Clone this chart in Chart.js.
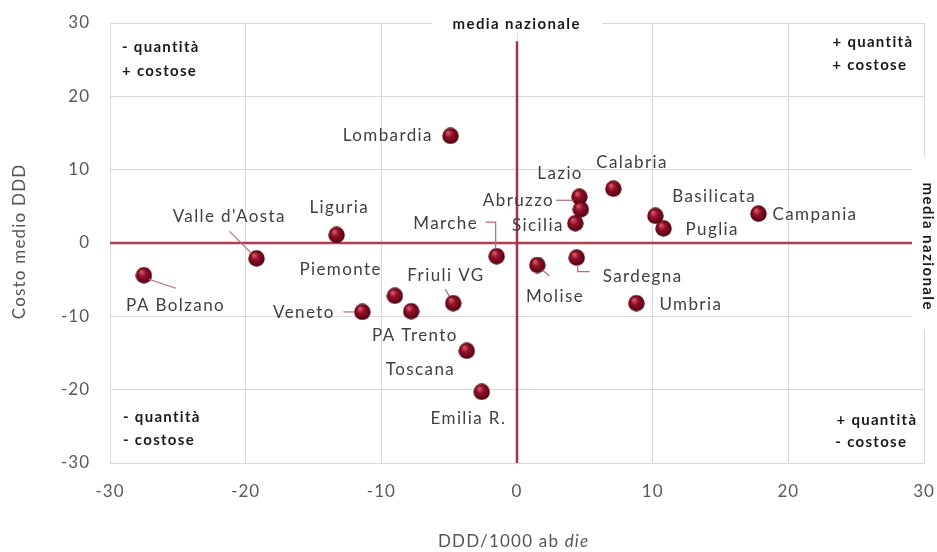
<!DOCTYPE html>
<html>
<head>
<meta charset="utf-8">
<script src="https://cdn.jsdelivr.net/npm/chart.js@4/dist/chart.umd.min.js"></script>
<style>
  html, body { margin: 0; padding: 0; background: #fff; }
  #box { width: 937px; height: 552px; }
</style>
</head>
<body>
<div id="box"><canvas id="grafico"></canvas></div>
<script>
// dati
const regioni = ['PA Bolzano', "Valle d'Aosta", 'Liguria', 'Lombardia', 'Marche', 'Piemonte', 'PA Trento',
  'Veneto', 'Friuli VG', 'Toscana', 'Emilia R.', 'Molise', 'Sardegna', 'Sicilia', 'Lazio', 'Abruzzo',
  'Calabria', 'Basilicata', 'Puglia', 'Campania', 'Umbria'];
const ddd   = [-27.5, -19.2, -13.3, -4.9, -1.5, -9.0, -7.8, -11.4, -4.7, -3.7, -2.6, 1.5, 4.4, 4.3, 4.6, 4.7, 7.1, 10.2, 10.8, 17.8, 8.8];
const costo = [-4.4, -2.1, 1.1, 14.6, -1.8, -7.2, -9.3, -9.4, -8.2, -14.7, -20.3, -3.0, -2.0, 2.7, 6.3, 4.6, 7.4, 3.7, 2.0, 4.0, -8.2];
const tickValori = [-30, -20, -10, 0, 10, 20, 30];
const mediaOrizz = [{ x: -30, y: 0 }, { x: 30, y: 0 }];
const mediaVert  = [{ x: 0, y: -30 }, { x: 0, y: 27.5 }];

// posizione etichette (offset in px dal punto) e linee guida
const etichette = {
  'PA Bolzano':    { dx: 31, dy: 30, al: 'center', guida: [[5, 4], [32, 13]] },
  "Valle d'Aosta": { dx: -28, dy: -42, al: 'center', guida: [[-27, -27], [-5, -5]] },
  'Liguria':       { dx: 2, dy: -27, al: 'center' },
  'Lombardia':     { dx: -19, dy: 0, al: 'right' },
  'Marche':        { dx: -20, dy: -33, al: 'right', guida: [[-11, -34], [-1, -34], [-1, -8]] },
  'Piemonte':      { dx: -55, dy: -26, al: 'center' },
  'PA Trento':     { dx: 3, dy: 24, al: 'center' },
  'Veneto':        { dx: -29, dy: 1, al: 'right', guida: [[-19, 0], [-8, 0]] },
  'Friuli VG':     { dx: -8, dy: -28, al: 'center', guida: [[-8, -14], [-4, -7]] },
  'Toscana':       { dx: -47, dy: 19, al: 'center' },
  'Emilia R.':     { dx: -14, dy: 27, al: 'center' },
  'Molise':        { dx: 17, dy: 32, al: 'center', guida: [[5, 5], [12, 11]] },
  'Sardegna':      { dx: 26, dy: 19, al: 'left', guida: [[1, 7], [1, 14], [13, 14]] },
  'Sicilia':       { dx: -13, dy: 2, al: 'right' },
  'Lazio':         { dx: -20, dy: -23, al: 'center' },
  'Abruzzo':       { dx: -28, dy: -9, al: 'right', guida: [[-25, -9], [-7, -9]] },
  'Calabria':      { dx: 18, dy: -26, al: 'center' },
  'Basilicata':    { dx: 58, dy: -19, al: 'center' },
  'Puglia':        { dx: 22, dy: 1, al: 'left' },
  'Campania':      { dx: 14, dy: 1, al: 'left' },
  'Umbria':        { dx: 23, dy: 1, al: 'left' }
};

const FONT = 'Lato, "Open Sans", sans-serif';

function sfera(r) {
  const c = document.createElement('canvas');
  c.width = c.height = r * 2;
  const g = c.getContext('2d');
  const grad = g.createRadialGradient(r * 0.7, r * 0.6, r * 0.1, r, r, r);
  grad.addColorStop(0, '#d25866');
  grad.addColorStop(0.35, '#98122a');
  grad.addColorStop(0.8, '#640618');
  grad.addColorStop(1, '#45040f');
  g.fillStyle = grad;
  g.beginPath();
  g.arc(r, r, r - 0.3, 0, Math.PI * 2);
  g.fill();
  return c;
}

// testo con spaziatura (allineato a mano per non contare lo spazio finale)
function scrivi(ctx, testo, x, y, al, sp) {
  ctx.letterSpacing = sp + 'px';
  const w = ctx.measureText(testo).width - sp;
  let x0 = x;
  if (al === 'center') x0 = x - w / 2;
  if (al === 'right') x0 = x - w;
  ctx.textAlign = 'left';
  ctx.fillText(testo, x0, y);
  return w;
}

const pluginEtichette = {
  id: 'etichette',
  beforeDraw(chart) {
    chart.ctx.letterSpacing = '1px';
  },
  afterDatasetsDraw(chart) {
    const ctx = chart.ctx;
    const meta = chart.getDatasetMeta(2);
    ctx.save();
    ctx.font = '17px ' + FONT;
    ctx.fillStyle = '#404040';
    ctx.textBaseline = 'middle';
    meta.data.forEach((pt, i) => {
      const e = etichette[regioni[i]];
      if (!e) return;
      if (e.guida) {
        ctx.strokeStyle = '#b86a78';
        ctx.lineWidth = 1.2;
        ctx.beginPath();
        e.guida.forEach((p, k) => {
          if (k === 0) ctx.moveTo(pt.x + p[0], pt.y + p[1]);
          else ctx.lineTo(pt.x + p[0], pt.y + p[1]);
        });
        ctx.stroke();
      }
      scrivi(ctx, regioni[i], pt.x + e.dx, pt.y + e.dy, e.al, 1.4);
    });
    ctx.restore();
  }
};

const pluginNote = {
  id: 'note',
  afterDraw(chart) {
    const ctx = chart.ctx;
    const a = chart.chartArea;
    ctx.save();
    // riquadri bianchi per le scritte "media nazionale"
    ctx.fillStyle = '#fff';
    ctx.fillRect(432, a.top - 12, 170, 22);
    ctx.fillRect(a.right - 12, 157, 30, 173);
    ctx.fillStyle = '#1a1a1a';
    ctx.font = 'bold 15px ' + FONT;
    ctx.textBaseline = 'middle';
    scrivi(ctx, 'media nazionale', 516, 24, 'center', 1.4);
    ctx.save();
    ctx.translate(928, 246);
    ctx.rotate(Math.PI / 2);
    scrivi(ctx, 'media nazionale', 0, 0, 'center', 1.4);
    ctx.restore();

    // quadranti
    ctx.font = 'bold 15px ' + FONT;
    scrivi(ctx, '- quantità', a.left + 12, 47, 'left', 1.3);
    scrivi(ctx, '+ costose', a.left + 12, 71, 'left', 1.3);
    scrivi(ctx, '- quantità', a.left + 13, 417, 'left', 1.3);
    scrivi(ctx, '- costose', a.left + 13, 440, 'left', 1.3);
    scrivi(ctx, '+ quantità', 912, 42, 'right', 1.3);
    scrivi(ctx, '+ costose', 906, 65, 'right', 1.3);
    scrivi(ctx, '+ quantità', 916, 420, 'right', 1.3);
    scrivi(ctx, '- costose', 906, 442, 'right', 1.3);

    // titoli assi
    ctx.fillStyle = '#555';
    ctx.font = '17px ' + FONT;
    ctx.save();
    ctx.translate(20, 242);
    ctx.rotate(-Math.PI / 2);
    scrivi(ctx, 'Costo medio DDD', 0, 0, 'center', 1.2);
    ctx.restore();

    const sp = 1.2;
    ctx.letterSpacing = sp + 'px';
    const t1 = 'DDD/1000 ab ';
    const w1 = ctx.measureText(t1).width;
    ctx.font = 'italic 17px ' + FONT;
    const w2 = ctx.measureText('die').width - sp;
    const x0 = 513 - (w1 + w2) / 2;
    ctx.font = '17px ' + FONT;
    scrivi(ctx, t1, x0, a.bottom + 79, 'left', sp);
    ctx.font = 'italic 17px ' + FONT;
    scrivi(ctx, 'die', x0 + w1, a.bottom + 79, 'left', sp);
    ctx.restore();
  }
};

// niente margini automatici dalle etichette dei tick: l'area la decide layout.padding
function azzeraPadding(s) {
  s.paddingLeft = 0; s.paddingRight = 0; s.paddingTop = 0; s.paddingBottom = 0;
}

const assi = {
  min: -30, max: 30,
  afterBuildTicks: s => { s.ticks = tickValori.map(v => ({ value: v })); },
  grid: { color: '#d9d9d9', lineWidth: 1, drawTicks: false },
  border: { color: '#d9d9d9' },
  ticks: { color: '#595959', font: { family: FONT, size: 17 } }
};

new Chart(document.getElementById('grafico'), {
  type: 'scatter',
  data: {
    datasets: [
      {
        data: mediaOrizz, showLine: true, borderColor: '#b0404f', borderWidth: 2.5,
        pointRadius: 0, order: 3
      },
      {
        data: mediaVert, showLine: true, borderColor: '#a8304a', borderWidth: 2.5,
        pointRadius: 0, order: 2
      },
      {
        data: ddd.map((x, i) => ({ x: x, y: costo[i] })),
        pointStyle: sfera(8.5), pointRadius: 8.5, order: 1
      }
    ]
  },
  options: {
    responsive: true,
    maintainAspectRatio: false,
    animation: false,
    layout: { autoPadding: false, padding: { top: 23, right: 13, left: 0, bottom: 0 } },
    plugins: { legend: { display: false }, tooltip: { enabled: false } },
    scales: {
      x: Object.assign({}, assi, {
        afterFit: s => { s.height = 89; azzeraPadding(s); },
        ticks: Object.assign({}, assi.ticks, { padding: 18 })
      }),
      y: Object.assign({}, assi, {
        afterFit: s => { s.width = 110; azzeraPadding(s); },
        ticks: Object.assign({}, assi.ticks, { padding: 20 })
      })
    }
  },
  plugins: [pluginEtichette, pluginNote]
});
</script>
</body>
</html>
